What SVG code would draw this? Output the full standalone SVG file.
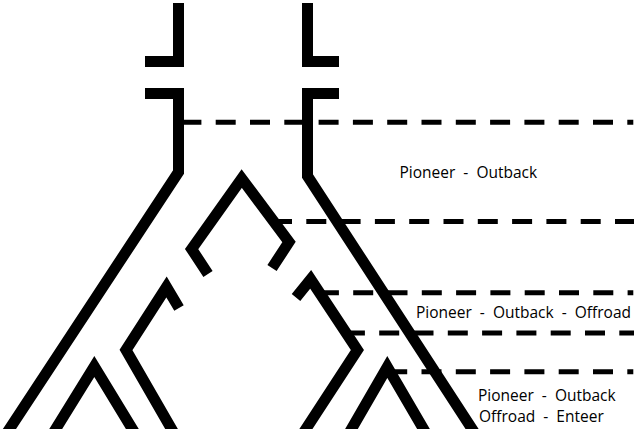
<svg xmlns="http://www.w3.org/2000/svg" width="638" height="429" viewBox="0 0 638 429">
<style>
.br{fill:none;stroke:#000;stroke-width:11;stroke-linejoin:miter;stroke-miterlimit:10;stroke-linecap:butt}
.dash{fill:none;stroke:#000;stroke-width:5;stroke-dasharray:20 14.3}
.lbl{font-family:"Open Sans","Noto Sans","Liberation Sans",sans-serif;font-size:15.5px;fill:#000;white-space:pre}
</style>
<rect width="638" height="429" fill="#fff"/>
<g id="dividers">
<line class="dash" x1="181.4" y1="122.2" x2="633.3" y2="122.2"/>
<line class="dash" x1="272" y1="221.5" x2="634" y2="221.5"/>
<line class="dash" x1="318.9" y1="292.7" x2="633.3" y2="292.7"/>
<line class="dash" x1="344.9" y1="333" x2="634" y2="333"/>
<line class="dash" x1="387.2" y1="371.7" x2="633.3" y2="371.7"/>
</g>
<g id="tree">
<g id="top-left-cap"><path class="br" d="M178.5,3 V61.5 H145"/></g>
<g id="top-right-cap"><path class="br" d="M307.5,3 V61.5 H339"/></g>
<g id="outer-left"><path class="br" d="M145,93.5 H178.5 V172 L5.5,435"/></g>
<g id="outer-right"><path class="br" d="M339,93.5 H307.5 V176 L476,435"/></g>
<g id="inner-peak"><path class="br" d="M208,274 L191.6,249 L241.7,178.5 L289,242 L272,268"/></g>
<g id="left-branch"><path class="br" d="M179,308 L166.5,287 L126,350 L175,435"/></g>
<g id="right-branch"><path class="br" d="M296,297.5 L310.7,279.4 L357.4,350 L302,435"/></g>
<g id="bottom-left-peak"><path class="br" d="M52,435 L94.3,366.5 L136,435"/></g>
<g id="bottom-right-peak"><path class="br" d="M348,435 L387.3,367 L427,435"/></g>
</g>
<g id="labels">
<text class="lbl" xml:space="preserve" x="399.5" y="177.7">Pioneer  -  Outback</text>
<text class="lbl" xml:space="preserve" x="416" y="318.3">Pioneer  -  Outback  -  Offroad</text>
<text class="lbl" xml:space="preserve" x="478" y="400.7">Pioneer  -  Outback</text>
<text class="lbl" xml:space="preserve" x="479" y="421.7">Offroad  -  Enteer</text>
</g>
</svg>
